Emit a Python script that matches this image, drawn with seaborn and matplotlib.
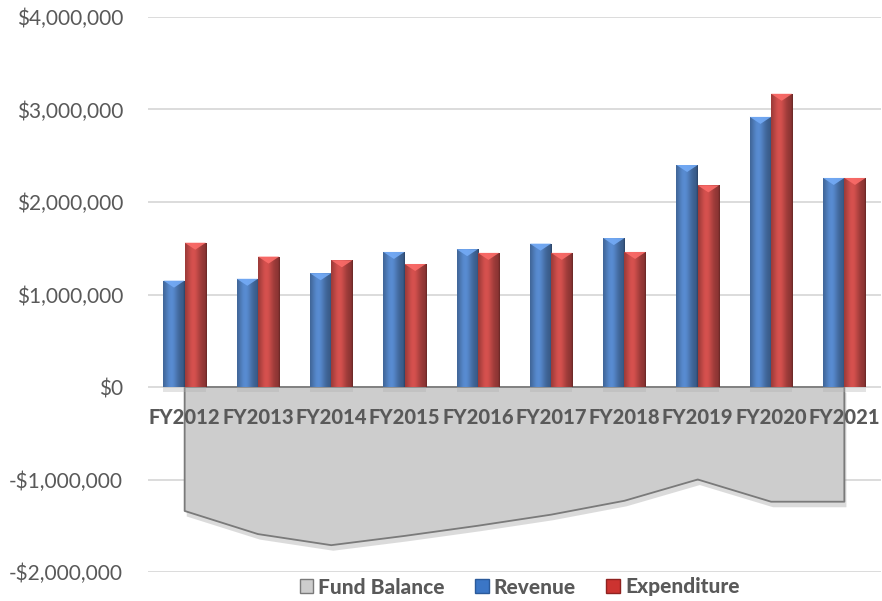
import numpy as np
import pandas as pd
import matplotlib
matplotlib.use("Agg")
import matplotlib.pyplot as plt
import matplotlib.patheffects as pe
import matplotlib.transforms as mtrans
from matplotlib.colors import to_rgb
from matplotlib.patches import Patch, Polygon
from matplotlib.ticker import FuncFormatter
import seaborn as sns

# ---------------- data ----------------
years = ["FY2012", "FY2013", "FY2014", "FY2015", "FY2016",
         "FY2017", "FY2018", "FY2019", "FY2020", "FY2021"]
revenue = [1150000, 1170000, 1230000, 1460000, 1490000,
           1550000, 1610000, 2400000, 2920000, 2260000]
expenditure = [1560000, 1410000, 1370000, 1330000, 1450000,
               1450000, 1460000, 2180000, 3170000, 2260000]
fund_balance = [-1340000, -1590000, -1710000, -1610000, -1500000,
                -1380000, -1230000, -1000000, -1240000, -1240000]
series_names = ["Fund Balance", "Revenue", "Expenditure"]
y_ticks = [-2000000, -1000000, 0, 1000000, 2000000, 3000000, 4000000]

# ---------------- style ----------------
sns.set_theme(style="white")
plt.rcParams["font.family"] = ["Lato", "DejaVu Sans"]

BLUE = "#3b76c6"
RED = "#cc3330"
GRAY = "#cdcdcd"
TEXT = "#595959"

fig = plt.figure(figsize=(8.82, 6.01), dpi=100)
ax = fig.add_axes([148 / 882, 1 - 572 / 601, (881 - 148) / 882, (572 - 17) / 601])

df = pd.DataFrame({
    "Year": years * 2,
    "Series": ["Revenue"] * len(years) + ["Expenditure"] * len(years),
    "Value": revenue + expenditure,
})

sns.barplot(data=df, x="Year", y="Value", hue="Series", order=years,
            hue_order=["Revenue", "Expenditure"],
            palette={"Revenue": BLUE, "Expenditure": RED},
            width=0.58, gap=0, ax=ax, legend=False, zorder=3,
            edgecolor="none", linewidth=0)

xpos = np.arange(len(years))
# fund balance area
poly = ax.fill_between(xpos, 0, fund_balance, color=GRAY, edgecolor="#7a7a7a",
                       linewidth=1.3, zorder=2)
poly.set_path_effects([pe.SimplePatchShadow(offset=(1.5, -4), shadow_rgbFace="#9a9a9a", alpha=0.35),
                       pe.Normal()])

ax.set_xlim(-0.5, len(years) - 0.5)
ax.set_ylim(y_ticks[0], y_ticks[-1])
ylim = ax.get_ylim()

# gradient shading of the bars (derived from the bar patches themselves)
def shade(color, n=64):
    base = np.array(to_rgb(color))
    t = np.linspace(0, 1, n)
    prof = 0.74 + 0.42 * np.exp(-((t - 0.38) / 0.32) ** 2)
    prof[-6:] *= np.linspace(1, 0.75, 6)
    img = np.clip(base[None, :] * prof[:, None], 0, 1)
    return img[None, :, :]

fig.canvas.draw()
to_px = ax.transData
inv = ax.transData.inverted()
bars = [p for p in ax.patches if p is not poly and hasattr(p, "get_x")]
for p in bars:
    x0, y0 = p.get_x(), p.get_y()
    w, h = p.get_width(), p.get_height()
    if h <= 0:
        continue
    col = p.get_facecolor()
    im = ax.imshow(shade(col), extent=(x0, x0 + w, y0, y0 + h), aspect="auto",
                   zorder=3.5, interpolation="bilinear")
    im.set_clip_path(p)
    # bevel triangle at the top
    (px0, ptop) = to_px.transform((x0, y0 + h))
    (_, ydrop) = inv.transform((0, ptop - 7))
    lighter = np.clip(np.array(to_rgb(col)) * 1.25 + 0.08, 0, 1)
    tri = Polygon([(x0, y0 + h), (x0 + w, y0 + h), (x0 + w / 2, ydrop)],
                  closed=True, facecolor=lighter, edgecolor="none", zorder=4, alpha=0.9)
    ax.add_patch(tri)
    # soft shadow under bar base
    (_, ysh) = inv.transform((0, to_px.transform((0, 0))[1] - 5))
    ax.fill_between([x0, x0 + w], ysh, 0, color="#b0b0b0", alpha=0.35,
                    zorder=2.5, linewidth=0)

ax.set_xlim(-0.5, len(years) - 0.5)
ax.set_ylim(*ylim)

# axes styling
ax.set_yticks(y_ticks)
ax.yaxis.set_major_formatter(FuncFormatter(
    lambda v, _: ("-$" if v < 0 else "$") + f"{abs(int(v)):,}"))
ax.grid(axis="y", color="#d9d9d9", linewidth=1.3, zorder=0)
ax.set_axisbelow(True)
for s in ax.spines.values():
    s.set_visible(False)
ax.tick_params(axis="y", length=0, pad=18, labelsize=15, labelcolor=TEXT)
ax.set_xlabel("")
ax.set_ylabel("")
ax.set_xticks([])

# category labels just under the zero line
offset = mtrans.ScaledTranslation(0, -31 / 100, fig.dpi_scale_trans)
for i, yr in enumerate(years):
    ax.text(i, 0, yr, transform=ax.transData + offset,
            ha="center", va="center", fontsize=14.5, fontweight="black", color=TEXT,
            zorder=6)

# legend
handles = [Patch(facecolor=GRAY, edgecolor="#7a7a7a"),
           Patch(facecolor=BLUE, edgecolor="#2b5a9a"),
           Patch(facecolor=RED, edgecolor="#8f2220")]
leg = fig.legend(handles, series_names, loc="center", bbox_to_anchor=(0.589, 1 - 587 / 601),
                 ncol=3, frameon=False, handlelength=0.65, handleheight=0.65,
                 handletextpad=0.25, columnspacing=1.45,
                 prop={"weight": "black", "size": 15})
for t in leg.get_texts():
    t.set_color(TEXT)

fig.savefig("out.png", dpi=100)
